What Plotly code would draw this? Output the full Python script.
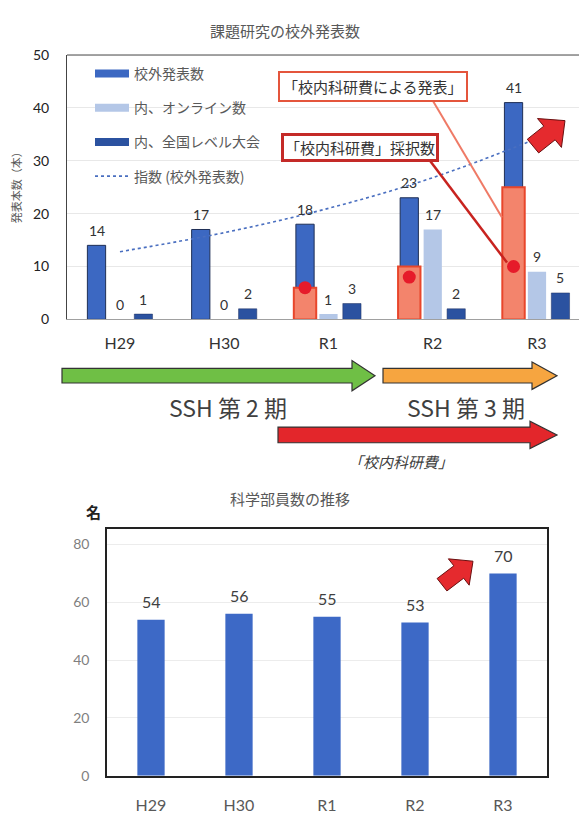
import plotly.graph_objects as go
import numpy as np

# ---------------- data ----------------
categories = ["H29", "H30", "R1", "R2", "R3"]
outside_talks = [14, 17, 18, 23, 41]          # 校外発表数
online_talks = [0, 0, 1, 17, 9]               # 内、オンライン数
national_talks = [1, 2, 3, 2, 5]              # 内、全国レベル大会
kakenhi_talks = [None, None, 6, 10, 25]       # 「校内科研費による発表」
kakenhi_adopted = [None, None, 6, 8, 10]      # 「校内科研費」採択数
trend_values = [12.8, 16.4, 21.0, 26.8, 34.2] # 指数 (校外発表数)
club_members = [54, 56, 55, 53, 70]           # 科学部員数

W, H = 579, 814
def px(x):
    return x / W
def py(y):
    return 1 - y / H

CJK = "Noto Sans CJK JP"
NUM = "Lato, Noto Sans CJK JP"

idx = np.arange(len(categories))
off = 0.225
bw = 0.175

fig = go.Figure()

# ---------------- top chart ----------------
fig.add_trace(go.Bar(x=idx - off, y=outside_talks, width=bw, marker=dict(color="#3c68c2", line=dict(color="#1f2f55", width=1)),
                     showlegend=False, xaxis="x", yaxis="y", hoverinfo="skip"))
fig.add_trace(go.Bar(x=idx, y=online_talks, width=bw, marker=dict(color="#b4c7e7", line=dict(width=0)),
                     showlegend=False, xaxis="x", yaxis="y", hoverinfo="skip"))
fig.add_trace(go.Bar(x=idx + off, y=national_talks, width=bw, marker=dict(color="#2b52a0", line=dict(color="#1f3060", width=0.5)),
                     showlegend=False, xaxis="x", yaxis="y", hoverinfo="skip"))
fig.add_trace(go.Bar(x=idx - off, y=kakenhi_talks, width=0.215, marker=dict(color="#f3846c", line=dict(color="#e8462b", width=2)),
                     showlegend=False, xaxis="x", yaxis="y", hoverinfo="skip"))
fig.add_trace(go.Scatter(x=idx - off, y=kakenhi_adopted, mode="markers", marker=dict(color="#e61b2a", size=13),
                         showlegend=False, xaxis="x", yaxis="y", hoverinfo="skip"))
fig.add_trace(go.Scatter(x=idx, y=trend_values, mode="lines", line=dict(color="#4a6fc0", width=1.6, dash="dot", shape="spline"),
                         name="指数 (校外発表数)", legendgroup="d", legendrank=4, xaxis="x", yaxis="y", hoverinfo="skip"))

# legend proxies (no data)
for name, col, grp, rk in [("校外発表数", "#3c68c2", "a", 1), ("内、オンライン数", "#b4c7e7", "b", 2),
                           ("内、全国レベル大会", "#2b52a0", "c", 3)]:
    fig.add_trace(go.Scatter(x=[None], y=[None], mode="lines", line=dict(color=col, width=8),
                             name=name, legendgroup=grp, legendrank=rk, xaxis="x", yaxis="y"))

annotations = []
# data labels (top)
for series, dx in [(outside_talks, -off), (online_talks, 0), (national_talks, off)]:
    for i, v in enumerate(series):
        annotations.append(dict(x=i + dx, y=v, xref="x", yref="y", text=str(v), showarrow=False,
                                xanchor="center", yanchor="middle", yshift=15,
                                font=dict(family=NUM, size=14, color="#333333")))
# data labels (bottom)
for i, v in enumerate(club_members):
    annotations.append(dict(x=categories[i], y=v, xref="x2", yref="y2", text=str(v), showarrow=False,
                            xanchor="center", yanchor="middle", yshift=18,
                            font=dict(family=NUM, size=16, color="#404040")))

def label(x, y, text, **kw):
    d = dict(x=px(x), y=py(y), xref="paper", yref="paper", text=text, showarrow=False,
             xanchor="center", yanchor="middle")
    d.update(kw)
    return d

annotations += [
    label(285, 22, "課題研究の校外発表数", font=dict(family=CJK, size=15, color="#595959")),
    label(16, 180, "発表本数（本）", textangle=-90, font=dict(family=CJK, size=11, color="#595959")),
    label(373, 79, "「校内科研費による発表」", font=dict(family=CJK, size=15, color="#333333"),
          bgcolor="white", bordercolor="#e4553c", borderwidth=2, borderpad=3),
    label(360, 141, "「校内科研費」採択数", font=dict(family=CJK, size=15, color="#333333"),
          bgcolor="white", bordercolor="#c42a28", borderwidth=3, borderpad=1),
    label(228, 406, "SSH 第 2 期", font=dict(family=CJK, size=23, color="#404040")),
    label(466, 406, "SSH 第 3 期", font=dict(family=CJK, size=23, color="#404040")),
    label(400, 462, "<i>「校内科研費」</i>", font=dict(family=CJK, size=15, color="#404040")),
    label(290, 500, "科学部員数の推移", font=dict(family=CJK, size=15, color="#595959")),
    label(93, 513, "<b>名</b>", font=dict(family=CJK, size=15, color="#222222")),
]

# ---------------- bottom chart ----------------
fig.add_trace(go.Bar(x=categories, y=club_members, width=0.31, marker=dict(color="#3d69c6", line=dict(width=0)),
                     showlegend=False, xaxis="x2", yaxis="y2", hoverinfo="skip"))

# ---------------- decorative shapes ----------------
def block_arrow(tail, tip, body_half, head_half, head_len, fill, line="#333333", lw=1.2):
    t = np.array(tail, float); p = np.array(tip, float)
    u = (p - t) / np.linalg.norm(p - t)
    n = np.array([-u[1], u[0]])
    b = p - u * head_len
    pts = [t + n * body_half, b + n * body_half, b + n * head_half, p,
           b - n * head_half, b - n * body_half, t - n * body_half]
    d = "M" + " L".join(f"{px(q[0]):.5f},{py(q[1]):.5f}" for q in pts) + " Z"
    return dict(type="path", path=d, xref="paper", yref="paper", fillcolor=fill, line=dict(color=line, width=lw), layer="above")

shapes = [
    dict(type="line", xref="paper", yref="paper", x0=px(67), x1=1, y0=py(47), y1=py(47), line=dict(color="#444444", width=1)),
    dict(type="line", xref="paper", yref="paper", x0=px(433), y0=py(94), x1=px(502), y1=py(213),
         line=dict(color="#ef7a66", width=2)),
    dict(type="line", xref="paper", yref="paper", x0=px(430), y0=py(155), x1=px(507), y1=py(259),
         line=dict(color="#c8231f", width=2.5)),
    block_arrow((62, 374.5), (375, 374.5), 7.5, 15.5, 23, "#6fbf45"),
    block_arrow((383, 374.5), (557, 374.5), 7.5, 14, 25, "#f6a540"),
    block_arrow((278, 435), (557, 435), 8, 14, 27, "#e3262b"),
    block_arrow((533, 140), (565, 114), 9, 19, 20, "#e52a2e", "#6a1010", 1),
    block_arrow((442, 588), (473, 564), 8, 17, 18, "#e52a2e", "#6a1010", 1),
]

fig.update_layout(
    width=W, height=H, margin=dict(l=0, r=0, t=0, b=0),
    paper_bgcolor="white", plot_bgcolor="rgba(0,0,0,0)",
    barmode="overlay",
    showlegend=True,
    legend=dict(x=px(90), y=py(50), xanchor="left", yanchor="top", bgcolor="rgba(0,0,0,0)",
                font=dict(family=CJK, size=14, color="#595959"), tracegroupgap=13, itemwidth=34,
                traceorder="grouped"),
    xaxis=dict(domain=[px(67), 1], range=[-0.508, 4.403], tickvals=list(idx), ticktext=categories,
               ticks="outside", ticklen=9, tickcolor="rgba(0,0,0,0)",
               tickfont=dict(family=NUM, size=16, color="#333333"),
               showline=True, linecolor="#a0a0a0", linewidth=1, showgrid=False, zeroline=False, anchor="y"),
    yaxis=dict(domain=[py(317), py(47)], range=[0, 50], dtick=10, ticks="outside", ticklen=14, tickcolor="rgba(0,0,0,0)",
               tickfont=dict(family=NUM, size=14, color="#222222"), showgrid=True, gridcolor="#e8e8e8",
               showline=True, linecolor="#444444", linewidth=1, zeroline=False, anchor="x"),
    xaxis2=dict(domain=[px(107), px(547)], ticks="outside", ticklen=14, tickcolor="rgba(0,0,0,0)",
                tickfont=dict(family=NUM, size=16, color="#595959"), showline=True, mirror=True,
                linecolor="#222222", linewidth=1.5, showgrid=False, zeroline=False, anchor="y2"),
    yaxis2=dict(domain=[py(783), py(531)], range=[0, 85.4], dtick=20, ticks="outside", ticklen=13,
                tickcolor="rgba(0,0,0,0)", tickfont=dict(family=NUM, size=14, color="#7f7f7f"),
                showgrid=True, gridcolor="#ececec", showline=True, mirror=True, linecolor="#222222",
                linewidth=1.5, zeroline=False, anchor="x2"),
    annotations=annotations,
    shapes=shapes,
)

fig.write_html("out.html")
